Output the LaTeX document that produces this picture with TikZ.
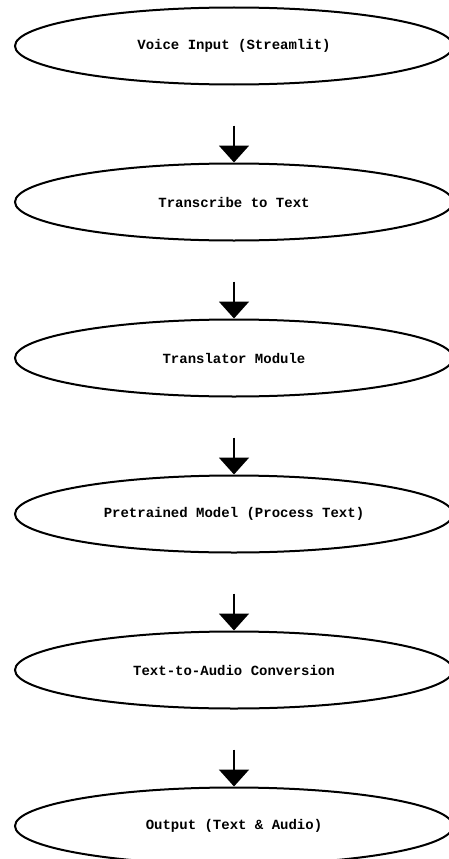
\documentclass[tikz,border=0pt]{standalone}
\usepackage{fontspec}
\setmonofont{Liberation Mono}
\usetikzlibrary{shapes.geometric,arrows.meta}
\tikzset{
  stage/.style={ellipse, draw=black, line width=2pt, fill=white, inner sep=0pt,
    minimum width=438pt, minimum height=77pt,
    font=\ttfamily\bfseries\fontsize{14}{16}\selectfont},
  flow/.style={line width=2pt, shorten <=40pt, -{Triangle[width=30pt,length=17pt]}}
}
\begin{document}
\begin{tikzpicture}[x=1pt,y=-1pt]
\useasboundingbox[fill=white] (0,0) rectangle (448,859);
\node[stage] (a) at (234,46)  {Voice Input (Streamlit)};
\node[stage] (b) at (234,202) {Transcribe to Text};
\node[stage] (c) at (234,358) {Translator Module};
\node[stage] (d) at (234,514) {Pretrained Model (Process Text)};
\node[stage] (e) at (234,670) {Text-to-Audio Conversion};
\node[stage] (f) at (234,826) {Output (Text \& Audio)};
\draw[flow] (a.south) -- (b.north);
\draw[flow] (b.south) -- (c.north);
\draw[flow] (c.south) -- (d.north);
\draw[flow] (d.south) -- (e.north);
\draw[flow] (e.south) -- (f.north);
\end{tikzpicture}
\end{document}
